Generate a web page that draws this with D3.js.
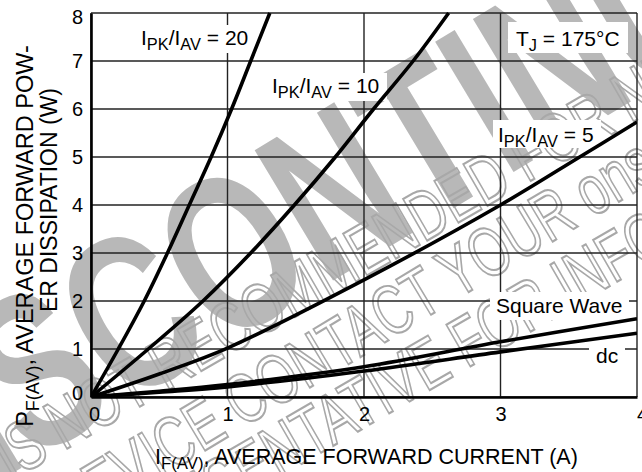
<!DOCTYPE html>
<html>
<head>
<meta charset="utf-8">
<script src="https://cdn.jsdelivr.net/npm/d3@7"></script>
<style>
    body { margin: 0; background: #fff; }
    text { font-family: "Liberation Sans", Arial, sans-serif; }
</style>
</head>
<body>
<svg id="chart-svg"></svg>
<script>
// Data
var xTicks = [0, 1, 2, 3, 4];
var yTicks = [0, 1, 2, 3, 4, 5, 6, 7, 8];

var ratio20Current = [0, 0.20, 0.39, 0.56, 0.72, 0.88, 1.03, 1.17, 1.31];
var ratio20Power   = [0, 1, 2, 3, 4, 5, 6, 7, 8];

var ratio10Current = [0, 0.42, 0.82, 1.17, 1.49, 1.79, 2.07, 2.36, 2.62];
var ratio10Power   = [0, 1, 2, 3, 4, 5, 6, 7, 8];

var ratio5Current = [0, 0.5, 1, 2, 3, 3.58, 4];
var ratio5Power   = [0, 0.48, 1.02, 2.44, 4.0, 5.0, 5.73];

var squareCurrent = [0, 0.5, 1, 2, 3, 4];
var squarePower   = [0, 0.12, 0.26, 0.63, 1.15, 1.63];

var dcCurrent = [0, 0.5, 1, 2, 3, 4];
var dcPower   = [0, 0.10, 0.21, 0.54, 0.94, 1.33];

var W = 642, H = 472;
var margin = { top: 13, right: 5, bottom: 75, left: 91 };
var width = W - margin.left - margin.right;
var height = H - margin.top - margin.bottom;

var svg = d3.select('#chart-svg')
    .attr('width', W)
    .attr('height', H);

// ---- watermark (behind everything) ----
var wm = svg.append('g').attr('class', 'watermark');

// place a rotated, stretched text so that char "idx" is centred on (cx, cy)
function placeWatermark(str, idx, cx, cy, angle, size, sy, style) {
    var grp = wm.append('g');
    var inner = grp.append('g').attr('transform', 'rotate(' + angle + ') scale(1,' + sy + ')');
    var t = inner.append('text')
        .attr('font-size', size)
        .attr('dominant-baseline', 'central')
        .text(str);
    style(t);
    var ext = t.node().getExtentOfChar(idx);
    t.attr('x', -(ext.x + ext.width / 2));
    grp.attr('transform', 'translate(' + cx + ',' + cy + ')');
}

placeWatermark('DISCONTINUED', 4, 232, 252, -31, 158, 1.4, function(t) {
    t.attr('fill', '#b8b8b8').attr('font-weight', 'bold');
});

var outline = function(t) {
    t.attr('fill', 'none').attr('stroke', '#a8a8a8').attr('stroke-width', 1.5);
};
placeWatermark('THIS DEVICE IS NOT RECOMMENDED FOR NEW DESIGN', 13, 25, 445, -30, 50, 1.4, outline);
placeWatermark('DEVICE CONTACT YOUR onsemi', 11, 362, 328, -31, 50, 1.4, outline);
placeWatermark('REPRESENTATIVE FOR INFORMATION', 15, 468, 340, -30, 50, 1.4, outline);

var g = svg.append('g')
    .attr('transform', 'translate(' + margin.left + ',' + margin.top + ')');

var xScale = d3.scaleLinear().domain([0, 4]).range([0, width]);
var yScale = d3.scaleLinear().domain([0, 8]).range([height, 0]);

// grid
g.selectAll('.hgrid')
    .data(yTicks)
    .enter()
    .append('line')
    .attr('x1', 0).attr('x2', width)
    .attr('y1', function(d) { return yScale(d); })
    .attr('y2', function(d) { return yScale(d); })
    .attr('stroke', '#222')
    .attr('stroke-width', 1.4);

g.selectAll('.vgrid')
    .data(xTicks)
    .enter()
    .append('line')
    .attr('y1', 0).attr('y2', height)
    .attr('x1', function(d) { return xScale(d); })
    .attr('x2', function(d) { return xScale(d); })
    .attr('stroke', '#222')
    .attr('stroke-width', 1.4);

// axes
var xAxis = d3.axisBottom(xScale).tickValues(xTicks).tickFormat(d3.format('d')).tickSize(0).tickPadding(10);
var yAxis = d3.axisLeft(yScale).tickValues(yTicks).tickFormat(d3.format('d')).tickSize(0).tickPadding(8);

var xg = g.append('g')
    .attr('transform', 'translate(0,' + height + ')')
    .call(xAxis);
var yg = g.append('g').call(yAxis);

[xg, yg].forEach(function(a) {
    a.select('.domain').attr('stroke', '#000').attr('stroke-width', 2.6);
    a.selectAll('text')
        .attr('font-size', 20)
        .attr('fill', '#000')
        .style('font-family', '"Liberation Sans", Arial, sans-serif');
});
xg.selectAll('text').filter(function(d) { return d === 0; }).attr('dx', 3);
xg.selectAll('text').filter(function(d) { return d === 4; }).attr('dx', 5);
yg.selectAll('text').filter(function(d) { return d === 8; }).attr('dy', '0.5em');
yg.selectAll('text').filter(function(d) { return d === 0; }).attr('dy', '0.12em');

// white boxes behind the labels
var boxes = [
    { x: 136, y: 25, w: 120, h: 28 },
    { x: 267, y: 73, w: 120, h: 28 },
    { x: 493, y: 120, w: 108, h: 28 },
    { x: 508, y: 22, w: 120, h: 31 },
    { x: 490, y: 292, w: 139, h: 28 },
    { x: 589, y: 341, w: 36, h: 27 }
];
svg.selectAll('.labelbox')
    .data(boxes)
    .enter()
    .append('rect')
    .attr('x', function(d) { return d.x; })
    .attr('y', function(d) { return d.y; })
    .attr('width', function(d) { return d.w; })
    .attr('height', function(d) { return d.h; })
    .attr('fill', '#fff');

// curves (on top of the label boxes)
var series = [
    { cur: ratio20Current, pow: ratio20Power },
    { cur: ratio10Current, pow: ratio10Power },
    { cur: ratio5Current, pow: ratio5Power },
    { cur: squareCurrent, pow: squarePower },
    { cur: dcCurrent, pow: dcPower }
];

var line = d3.line()
    .x(function(d) { return xScale(d[0]); })
    .y(function(d) { return yScale(d[1]); })
    .curve(d3.curveCatmullRom.alpha(0.5));

var cg = svg.append('g')
    .attr('transform', 'translate(' + margin.left + ',' + margin.top + ')');

cg.append('clipPath').attr('id', 'plotclip')
    .append('rect').attr('y', -2).attr('width', width).attr('height', height + 2);

cg.selectAll('.curve')
    .data(series)
    .enter()
    .append('path')
    .attr('class', 'curve')
    .attr('clip-path', 'url(#plotclip)')
    .attr('d', function(s) { return line(s.cur.map(function(c, i) { return [c, s.pow[i]]; })); })
    .attr('fill', 'none')
    .attr('stroke', '#000')
    .attr('stroke-width', 3.6);

// labels with subscripts
function subLabel(parent, x, y, parts, size) {
    var t = parent.append('text')
        .attr('x', x).attr('y', y)
        .attr('font-size', size)
        .attr('fill', '#000');
    parts.forEach(function(p) {
        var ts = t.append('tspan').text(p[0]);
        if (p[1] === 'sub') ts.attr('font-size', size * 0.78).attr('dy', 5);
        else if (p[1] === 'up') ts.attr('dy', -5);
    });
    return t;
}

var ratioLabels = [
    { x: 141, y: 45, v: '20' },
    { x: 272, y: 93, v: '10' },
    { x: 498, y: 142, v: '5' }
];
ratioLabels.forEach(function(l) {
    subLabel(svg, l.x, l.y, [['I'], ['PK', 'sub'], ['/I', 'up'], ['AV', 'sub'], [' = ' + l.v, 'up']], 21);
});

subLabel(svg, 516, 46, [['T'], ['J', 'sub'], [' = 175\u00B0C', 'up']], 21);

svg.append('text').attr('x', 496).attr('y', 313).attr('font-size', 21).text('Square Wave');
svg.append('text').attr('x', 596).attr('y', 363).attr('font-size', 21).text('dc');

// axis titles
subLabel(svg, 155, 464, [['I'], ['F(AV)', 'sub'], [', AVERAGE FORWARD CURRENT (A)', 'up']], 21.5);

var yt = svg.append('g').attr('transform', 'translate(33,236) rotate(-90)');
var yt1 = yt.append('text').attr('text-anchor', 'middle').attr('font-size', 23.5);
yt1.append('tspan').text('P');
yt1.append('tspan').text('F(AV)').attr('font-size', 18).attr('dy', 6);
yt1.append('tspan').text(', AVERAGE FORWARD POW-').attr('dy', -6);

svg.append('text')
    .attr('transform', 'translate(57,200) rotate(-90)')
    .attr('text-anchor', 'middle')
    .attr('font-size', 23)
    .text('ER DISSIPATION (W)');
</script>
</body>
</html>
